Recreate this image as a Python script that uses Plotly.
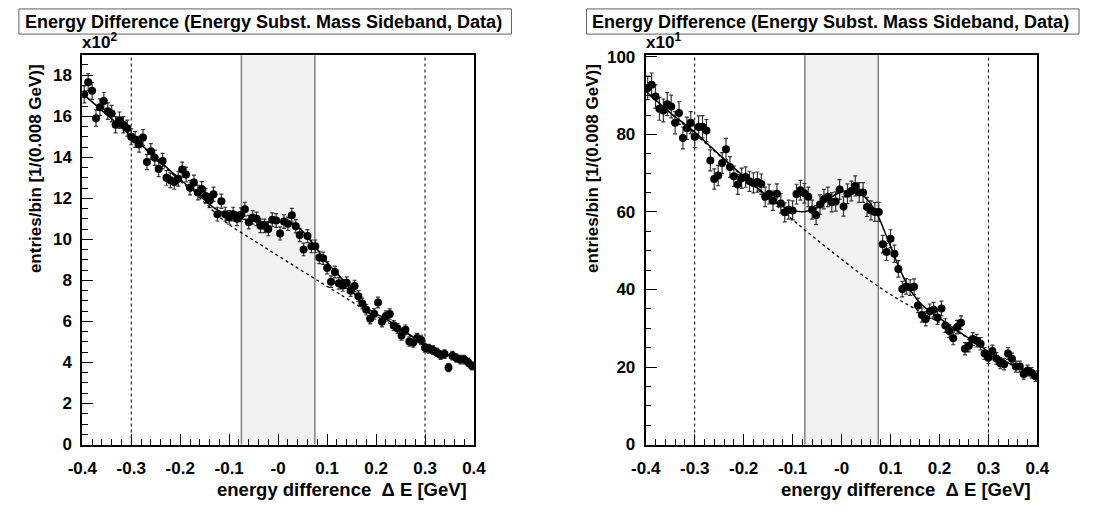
import plotly.graph_objects as go
import numpy as np

# ---------------- data ----------------
bin_low = -0.4
bin_width = 0.008
n_bins = 100

left_counts = [1707, 1766, 1724, 1591, 1644, 1675, 1625, 1613, 1559, 1581,
               1559, 1542, 1500, 1487, 1464, 1497, 1377, 1429, 1398, 1343,
               1382, 1300, 1288, 1280, 1296, 1340, 1316, 1252, 1277, 1228,
               1246, 1212, 1189, 1220, 1123, 1186, 1123, 1107, 1123, 1100,
               1120, 1147, 1084, 1107, 1100, 1066, 1066, 1050, 1096, 1092,
               1029, 1087, 1076, 1118, 1064, 1021, 951, 1016, 966, 966,
               912, 908, 861, 794, 841, 786, 775, 789, 750, 773,
               723, 687, 657, 613, 637, 692, 598, 626, 636, 580,
               566, 532, 559, 502, 497, 519, 510, 472, 467, 461,
               449, 436, 441, 375, 433, 422, 414, 414, 401, 383]

right_counts = [920, 928, 898, 866, 862, 878, 872, 830, 855, 791,
                816, 830, 794, 819, 820, 810, 733, 685, 694, 726,
                762, 716, 692, 671, 687, 690, 679, 675, 677, 672,
                639, 646, 629, 647, 622, 599, 606, 604, 646, 656,
                648, 639, 606, 592, 619, 633, 639, 625, 627, 658,
                614, 647, 654, 667, 650, 650, 613, 604, 600, 600,
                517, 497, 531, 492, 453, 401, 408, 405, 407, 359,
                334, 324, 344, 348, 328, 351, 307, 293, 274, 303,
                314, 247, 255, 272, 268, 260, 235, 224, 241, 222,
                210, 207, 235, 221, 201, 201, 182, 191, 185, 176]

# fit curves (total fit, solid)
left_fit_x = [-0.4, -0.35, -0.3, -0.25, -0.2, -0.15, -0.13, -0.1, -0.075, -0.05,
              -0.025, 0.0, 0.02, 0.04, 0.06, 0.075, 0.1, 0.14, 0.18, 0.22,
              0.26, 0.3, 0.35, 0.4]
left_fit_y = [1712, 1608, 1505, 1398, 1292, 1192, 1152, 1116, 1101, 1090,
              1085, 1085, 1083, 1062, 1012, 968, 888, 782, 668, 612,
              548, 490, 434, 380]
# background (dashed)
left_bkg_x = [-0.4, -0.35, -0.3, -0.25, -0.2, -0.15, -0.13, -0.1, -0.05, 0.0,
              0.05, 0.1, 0.14, 0.18, 0.22, 0.26, 0.3, 0.35, 0.4]
left_bkg_y = [1712, 1607, 1502, 1394, 1285, 1180, 1132, 1072, 995, 920,
              845, 771, 712, 652, 600, 546, 490, 434, 380]

right_fit_x = [-0.4, -0.35, -0.3, -0.25, -0.2, -0.17, -0.15, -0.13, -0.108, -0.075,
               -0.048, -0.025, 0.0, 0.03, 0.052, 0.075, 0.09, 0.105, 0.118, 0.131,
               0.145, 0.16, 0.18, 0.2, 0.23, 0.264, 0.3, 0.344, 0.4]
right_fit_y = [912, 856, 806, 748, 692, 660, 640, 622, 606, 601,
               612, 635, 652, 654, 633, 588, 543, 496, 455, 420,
               390, 366, 344, 326, 299, 271, 240, 208, 175]
right_bkg_x = [-0.4, -0.35, -0.3, -0.25, -0.2, -0.15, -0.1, -0.05, 0.0, 0.05,
               0.1, 0.15, 0.2, 0.25, 0.3, 0.35, 0.4]
right_bkg_y = [912, 855, 802, 746, 690, 635, 580, 528, 478, 430,
               387, 350, 315, 281, 240, 205, 175]

x_tick_vals = [-0.4, -0.3, -0.2, -0.1, 0.0, 0.1, 0.2, 0.3, 0.4]
x_tick_text = ["-0.4", "-0.3", "-0.2", "-0.1", "-0", "0.1", "0.2", "0.3", "0.4"]
left_y_tick_vals = [0, 200, 400, 600, 800, 1000, 1200, 1400, 1600, 1800]
left_y_tick_text = ["0", "2", "4", "6", "8", "10", "12", "14", "16", "18"]
right_y_tick_vals = [0, 200, 400, 600, 800, 1000]
right_y_tick_text = ["0", "20", "40", "60", "80", "100"]

title_text = "Energy Difference (Energy Subst. Mass Sideband, Data)"
x_title = "energy difference  \u0394 E [GeV]"
y_title = "entries/bin [1/(0.008 GeV)]"
signal_lo, signal_hi = -0.075, 0.075
side_lo, side_hi = -0.3, 0.3
left_ymax = 1897
right_ymax = 1004

# ---------------- layout helpers ----------------
W, H = 1093, 514
def fx(p):
    return p / W
def fy(p):
    return 1 - p / H

FONT = "Liberation Sans"
frame_top, frame_bot = 50, 452.5
panels = [
    dict(xa="x", ya="y", x0=69, x1=470.6, counts=left_counts,
         fx_=left_fit_x, fy_=left_fit_y, bx=left_bkg_x, by=left_bkg_y,
         ymax=left_ymax, tv=left_y_tick_vals, tt=left_y_tick_text, exp="2",
         box=(4, 509), ytitle_x=21),
    dict(xa="x2", ya="y2", x0=646.7, x1=1048.3, counts=right_counts,
         fx_=right_fit_x, fy_=right_fit_y, bx=right_bkg_x, by=right_bkg_y,
         ymax=right_ymax, tv=right_y_tick_vals, tt=right_y_tick_text, exp="1",
         box=(586, 1091), ytitle_x=592),
]

centers = bin_low + bin_width * (np.arange(n_bins) + 0.5)

fig = go.Figure()
shapes = []
annotations = []
for i, p in enumerate(panels):
    counts = np.array(p["counts"], dtype=float)
    errs = np.sqrt(counts)
    fig.add_trace(go.Scatter(
        x=centers, y=counts, mode="markers", xaxis=p["xa"], yaxis=p["ya"],
        marker=dict(color="black", size=8, symbol="circle"),
        error_y=dict(type="data", array=errs, visible=True, color="#333333",
                     thickness=1.2, width=2),
        showlegend=False, hoverinfo="skip"))
    fig.add_trace(go.Scatter(
        x=p["bx"], y=p["by"], mode="lines", xaxis=p["xa"], yaxis=p["ya"],
        line=dict(color="black", width=1.3, dash="3px,3px", shape="spline"),
        showlegend=False, hoverinfo="skip"))
    fig.add_trace(go.Scatter(
        x=p["fx_"], y=p["fy_"], mode="lines", xaxis=p["xa"], yaxis=p["ya"],
        line=dict(color="black", width=1.5, shape="spline"),
        showlegend=False, hoverinfo="skip"))

    axs = "" if i == 0 else "2"
    dom_x = [fx(p["x0"]), fx(p["x1"])]
    dom_y = [fy(frame_bot), fy(frame_top)]
    fig.update_layout(**{
        "xaxis" + axs: dict(
            domain=dom_x, range=[-0.4, 0.4], anchor="y" + axs,
            tickmode="array", tickvals=x_tick_vals, ticktext=x_tick_text,
            ticks="inside", ticklen=11, tickwidth=1, tickcolor="black",
            minor=dict(ticks="inside", ticklen=5.5, tickwidth=1, tickcolor="black",
                       tickmode="linear", tick0=-0.4, dtick=0.02, showgrid=False),
            showline=True, linewidth=2, linecolor="black", mirror=True,
            showgrid=False, zeroline=False, ticklabelstandoff=7,
            tickfont=dict(family=FONT, size=17, color="black", weight="bold")),
        "yaxis" + axs: dict(
            domain=dom_y, range=[0, p["ymax"]], anchor="x" + axs,
            tickmode="array", tickvals=p["tv"], ticktext=p["tt"],
            ticks="inside", ticklen=11, tickwidth=1, tickcolor="black",
            minor=dict(ticks="inside", ticklen=5.5, tickwidth=1, tickcolor="black",
                       tickmode="linear", tick0=0, dtick=50, showgrid=False),
            showline=True, linewidth=2, linecolor="black", mirror=True,
            showgrid=False, zeroline=False, ticklabelstandoff=5,
            tickfont=dict(family=FONT, size=17, color="black", weight="bold")),
    })

    xr = p["xa"]
    yd = p["ya"] + " domain"
    shapes.append(dict(type="rect", xref=xr, yref=yd, x0=signal_lo, x1=signal_hi,
                       y0=0, y1=1, fillcolor="#f2f2f2", line=dict(width=0), layer="below"))
    for xv in (signal_lo, signal_hi):
        shapes.append(dict(type="line", xref=xr, yref=yd, x0=xv, x1=xv, y0=0, y1=1,
                           line=dict(color="#808080", width=1.5), layer="below"))
    for xv in (side_lo, side_hi):
        shapes.append(dict(type="line", xref=xr, yref=yd, x0=xv, x1=xv, y0=0, y1=1,
                           line=dict(color="black", width=1, dash="3px,3px"), layer="below"))

    # title box
    bx0, bx1 = p["box"]
    shapes.append(dict(type="rect", xref="paper", yref="paper",
                       x0=fx(bx0), x1=fx(bx1), y0=fy(28), y1=fy(2),
                       fillcolor="white", line=dict(color="#606060", width=1)))
    annotations.append(dict(xref="paper", yref="paper", x=fx(bx0 + 4), y=fy(15.5),
                            xanchor="left", yanchor="middle", showarrow=False,
                            text="<b>" + title_text + "</b>",
                            font=dict(family=FONT, size=18, color="black")))
    # exponent label
    annotations.append(dict(xref="paper", yref="paper", x=fx(p["x0"] - 2), y=fy(49),
                            xanchor="left", yanchor="bottom", showarrow=False,
                            text="<b>x10<sup>" + p["exp"] + "</sup></b>",
                            font=dict(family=FONT, size=17, color="black")))
    # x title (right aligned)
    annotations.append(dict(xref="paper", yref="paper", x=fx(p["x1"] - 5), y=fy(499),
                            xanchor="right", yanchor="middle", showarrow=False,
                            text="<b>" + x_title + "</b>",
                            font=dict(family=FONT, size=18.5, color="black")))
    # y title (top aligned)
    annotations.append(dict(xref="paper", yref="paper", x=fx(p["ytitle_x"]), y=fy(57),
                            xanchor="center", yanchor="top", showarrow=False,
                            textangle=-90,
                            text="<b>" + y_title + "</b>",
                            font=dict(family=FONT, size=17, color="black")))

fig.update_layout(width=W, height=H, margin=dict(l=0, r=0, t=0, b=0),
                  paper_bgcolor="white", plot_bgcolor="white",
                  shapes=shapes, annotations=annotations, showlegend=False)

fig.write_html("out.html")
